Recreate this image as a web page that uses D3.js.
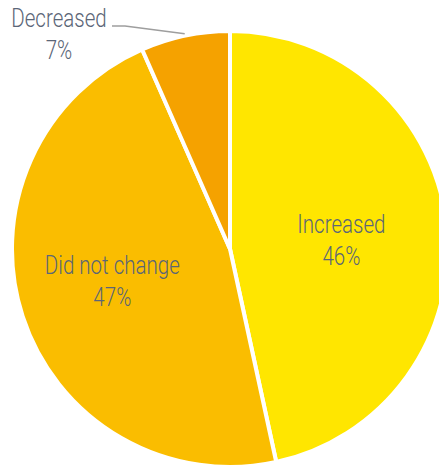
<!DOCTYPE html>
<html>
<head>
<meta charset="utf-8">
<script src="https://cdn.jsdelivr.net/npm/d3@7"></script>
<style>
  body { margin: 0; background: #fff; }
  svg { display: block; }
</style>
</head>
<body>
<div id="chart"></div>
<script>
const categories = ["Increased", "Did not change", "Decreased"];
const shares = [46.6, 46.8, 6.6];
const shareLabels = ["46%", "47%", "7%"];
const colors = ["#FFE600", "#FABD00", "#F5A200"];

const width = 439, height = 470;
const cx = 230, cy = 249, radius = 218;
const textColor = "#5b6677";
const squeeze = 0.79; // condensed look, no condensed font installed

const data = categories.map((c, i) => ({ key: c, value: shares[i], label: shareLabels[i], color: colors[i] }));

const svg = d3.select("#chart")
    .append("svg")
    .attr("width", width)
    .attr("height", height);

const g = svg.append("g")
    .attr("transform", `translate(${cx},${cy})`);

const pie = d3.pie()
    .sort(null)
    .value(d => d.value);

const arc = d3.arc()
    .innerRadius(0)
    .outerRadius(radius);

const arcs = pie(data);

g.selectAll("path")
    .data(arcs)
    .enter()
    .append("path")
    .attr("d", arc)
    .attr("fill", d => d.data.color)
    .attr("stroke", "#fff")
    .attr("stroke-width", 4)
    .attr("stroke-linejoin", "round");

function label(x, y, d) {
    const t = g.append("text")
        .attr("transform", `translate(${x},${y}) scale(${squeeze},1)`)
        .attr("text-anchor", "middle")
        .attr("font-family", "Roboto, sans-serif")
        .attr("font-weight", 300)
        .attr("font-size", "26px")
        .attr("fill", textColor);
    t.append("tspan").attr("x", 0).attr("y", 0).text(d.key);
    t.append("tspan").attr("x", 0).attr("y", 32).text(d.label);
}

// labels inside the two big slices, nudged off the centroid
const inner = d3.arc().innerRadius(radius * 0.5).outerRadius(radius * 0.5);
const nudge = [[3, -4], [-14, -9]];

arcs.slice(0, 2).forEach((d, i) => {
    const [x, y] = inner.centroid(d);
    label(x + nudge[i][0], y + nudge[i][1], d.data);
});

// outside label for the small slice, with leader line
const small = arcs[2];
const mid = (small.startAngle + small.endAngle) / 2;
const edge = [Math.sin(mid) * (radius + 2), -Math.cos(mid) * (radius + 2)];

g.append("polyline")
    .attr("points", [edge, [-105, -223], [-118, -223]].map(p => p.join(",")).join(" "))
    .attr("fill", "none")
    .attr("stroke", "#9e9e9e")
    .attr("stroke-width", 1.5);

label(-171, -222, small.data);
</script>
</body>
</html>
